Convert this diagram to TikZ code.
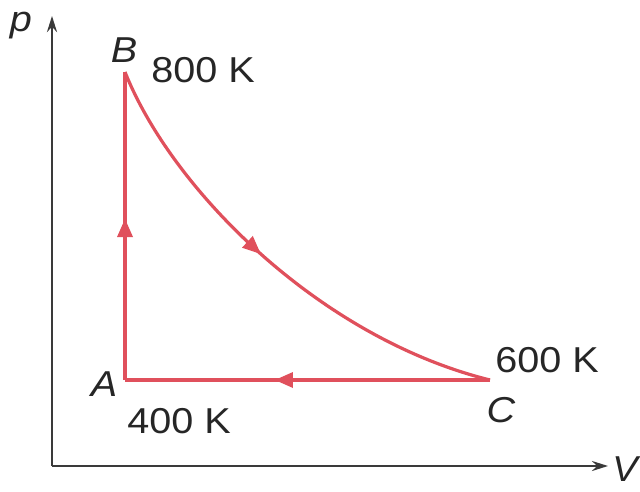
\documentclass[tikz,border=0pt]{standalone}
\usepackage{fontspec}
\setmainfont{Liberation Sans}
\usetikzlibrary{arrows.meta,decorations.markings}
\definecolor{cyc}{HTML}{E0505C}
\definecolor{axc}{HTML}{3A3A3A}
\tikzset{
  lbl/.style={inner sep=0pt, font=\fontsize{36}{40}\selectfont, text=black!85},
  axis/.style={draw=axc, line width=2.4pt, -{Stealth[length=16pt,width=10pt]}},
  proc/.style={draw=cyc, line width=3.2pt},
  midarrow/.style={postaction={decorate}, decoration={markings,
    mark=at position #1 with {\fill[cyc] (7pt,0) -- (-11pt,8pt) -- (-11pt,-8pt) -- cycle;}}}
}
\begin{document}
\begin{tikzpicture}[x=1pt,y=-1pt]
\useasboundingbox (0,0) rectangle (640,492);
\fill[white] (0,0) rectangle (640,492);
% axes
\coordinate (O) at (52,466);
\coordinate (ptop) at (52,16);
\coordinate (vend) at (608,466);
\draw[axis] (O) -- (ptop);
\draw[axis] (O) -- (vend);
\node[lbl] (plab) at (21,26) {\scalebox{1.1}[1]{\itshape p}};
\node[lbl] (vlab) at (625,469) {\scalebox{1.05}[1]{\itshape V}};
% states
\coordinate (A) at (125,380);
\coordinate (B) at (125,72);
\coordinate (C) at (490,380);
\draw[proc, midarrow=0.5] (A) -- (B);
\draw[proc, midarrow=0.45] (B) .. controls (172,190) and (320,338) .. (C);
\draw[proc, midarrow=0.57] (C) -- (A);
% labels
\node[lbl] (Blab) at (124,50) {\scalebox{1.1}[1]{\itshape B}};
\node[lbl] (Bt) at (203,70) {\scalebox{1.1}[1]{800 K}};
\node[lbl] (Alab) at (104,384) {\scalebox{1.1}[1]{\itshape A}};
\node[lbl] (At) at (179,421) {\scalebox{1.1}[1]{400 K}};
\node[lbl] (Ct) at (547,360) {\scalebox{1.1}[1]{600 K}};
\node[lbl] (Clab) at (501,410) {\scalebox{1.1}[1]{\itshape C}};
\end{tikzpicture}
\end{document}
